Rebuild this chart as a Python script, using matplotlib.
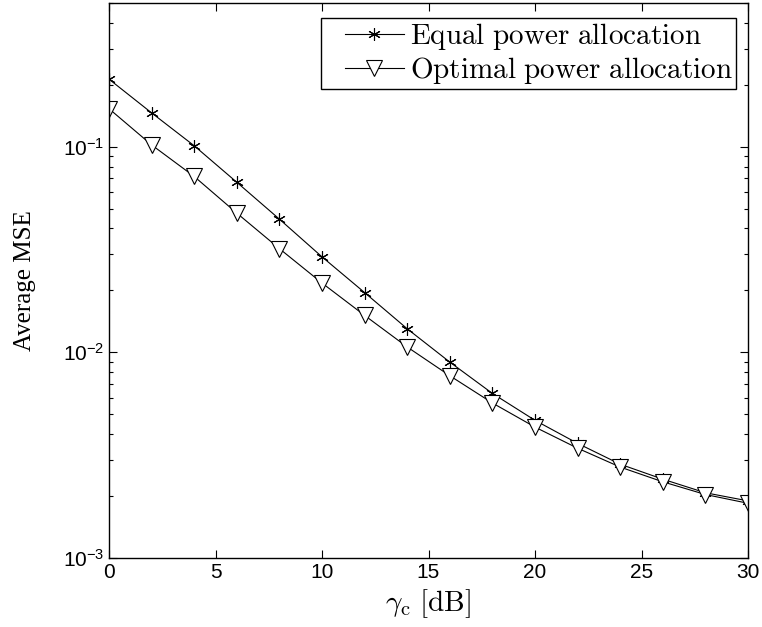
import matplotlib
matplotlib.use("Agg")
import matplotlib.pyplot as plt
from matplotlib.lines import Line2D
from matplotlib.legend_handler import HandlerLine2D
from matplotlib.ticker import LogLocator, NullFormatter, FixedLocator

# data
snr_db = [0, 2, 4, 6, 8, 10, 12, 14, 16, 18, 20, 22, 24, 26, 28, 30]
mse_equal = [0.213, 0.146, 0.101, 0.0671, 0.0444, 0.0291, 0.0195, 0.0130,
             0.00895, 0.00630, 0.00466, 0.00360, 0.00285, 0.00241, 0.00207, 0.00189]
mse_optimal = [0.153, 0.102, 0.0716, 0.0475, 0.0319, 0.0217, 0.0151, 0.0106,
               0.00768, 0.00566, 0.00432, 0.00341, 0.00276, 0.00234, 0.00203, 0.00184]
x_ticks = [0, 5, 10, 15, 20, 25, 30]
legend_labels = [r"$\mathrm{Equal\ power\ allocation}$",
                 r"$\mathrm{Optimal\ power\ allocation}$"]

plt.rcParams["font.family"] = ["Liberation Sans", "DejaVu Sans"]
plt.rcParams["mathtext.fontset"] = "custom"
plt.rcParams["mathtext.rm"] = "Liberation Sans"
plt.rcParams["mathtext.it"] = "Liberation Sans:italic"
plt.rcParams["mathtext.bf"] = "Liberation Sans:bold"

fig = plt.figure(figsize=(7.62, 6.27), dpi=100)
ax = fig.add_axes([109 / 762, 1 - 557.7 / 627, 639 / 762, 554.7 / 627])

ax.semilogy(snr_db, mse_equal, color="black", lw=0.8, marker=(6, 2, 0),
            markersize=9, markeredgewidth=0.8, label=legend_labels[0])
ax.semilogy(snr_db, mse_optimal, color="black", lw=0.8, marker="v",
            markersize=11, markerfacecolor="white", markeredgewidth=0.8,
            label=legend_labels[1])

ax.set_xlim(0, 30)
ax.set_ylim(1e-3, 0.5)
ax.xaxis.set_major_locator(FixedLocator(x_ticks))
ax.yaxis.set_major_locator(LogLocator(base=10, numticks=10))
ax.yaxis.set_minor_locator(LogLocator(base=10, subs=range(2, 10), numticks=10))
ax.yaxis.set_minor_formatter(NullFormatter())

ax.tick_params(which="both", direction="in", top=True, right=True, labelsize=15)
ax.tick_params(which="major", length=6, width=0.8)
ax.tick_params(which="minor", length=3, width=0.8)
for side in ax.spines.values():
    side.set_linewidth(1.0)

ax.set_xlabel(r"$\gamma_{\mathrm{c}}\ \mathrm{[dB]}$", fontsize=21,
              math_fontfamily="cm", labelpad=4)
ax.set_ylabel("Average MSE", fontsize=18, family="Liberation Serif", labelpad=19)

# xpad pushes the legend line in from the box's left edge, like the original
leg = ax.legend(loc="upper right", bbox_to_anchor=(627 / 639, 1 - 15 / 554.7),
                borderaxespad=0, fancybox=False, edgecolor="black",
                framealpha=1, fontsize=21, handlelength=2.75,
                handletextpad=0.22, borderpad=0.1, labelspacing=0.1,
                handler_map={Line2D: HandlerLine2D(xpad=0.72)})
leg.get_frame().set_linewidth(1.0)
for t in leg.get_texts():
    t.set_math_fontfamily("cm")

fig.savefig("out.png", dpi=100)
